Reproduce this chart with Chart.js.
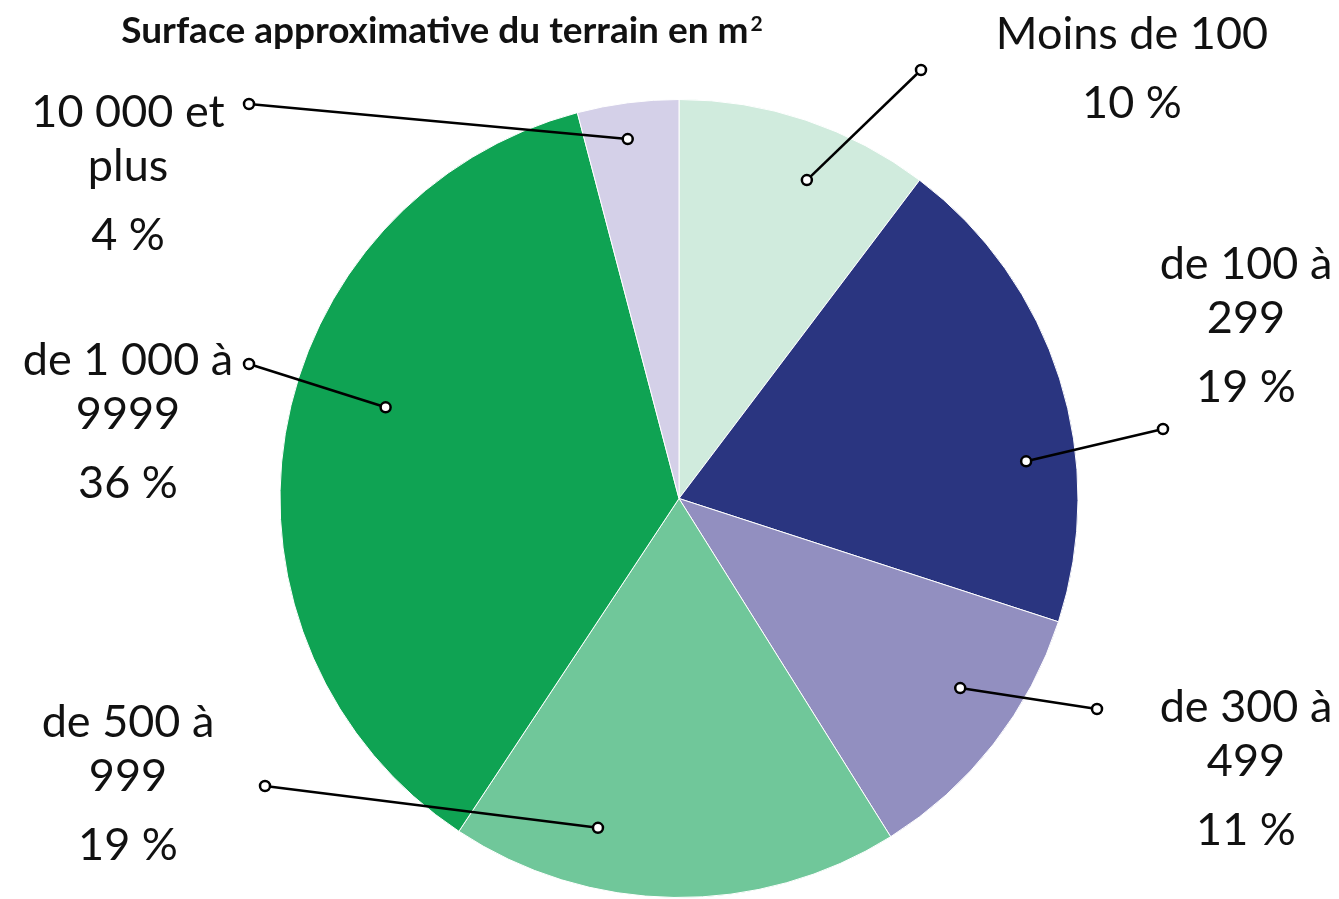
<!DOCTYPE html>
<html>
<head>
<meta charset="utf-8">
<script src="https://cdn.jsdelivr.net/npm/chart.js@4/dist/chart.umd.min.js"></script>
<style>
  html, body { margin: 0; padding: 0; background: #fff; }
  #wrap { width: 1339px; height: 899px; position: relative; }
</style>
</head>
<body>
<div id="wrap"><canvas id="chart"></canvas></div>
<script>
const chartTitle = "Surface approximative du terrain en m";
const titleSup = "2";
const categories = [
    ["Moins de 100"],
    ["de 100 à", "299"],
    ["de 300 à", "499"],
    ["de 500 à", "999"],
    ["de 1 000 à", "9999"],
    ["10 000 et", "plus"]
];
const values = [10.3, 19.7, 11.1, 18.2, 36.6, 4.1];
const percentLabels = ["10 %", "19 %", "11 %", "19 %", "36 %", "4 %"];
const colors = ["#d0ebdd", "#2a3580", "#928fc0", "#70c79a", "#0fa353", "#d4d0e8"];

// label placement: text centre x, first baseline y, outer dot, inner dot (fraction of slice angle, fraction of radius)
const labelPos = [
    { x: 1132, y: 49,  dot: [921, 70],  f: 0.59, r: 0.86 },
    { x: 1246, y: 279, dot: [1163, 429], f: 0.66, r: 0.875 },
    { x: 1246, y: 722, dot: [1097, 709], f: 0.40, r: 0.85 },
    { x: 128,  y: 737, dot: [265, 786], f: 0.70, r: 0.85 },
    { x: 128,  y: 375, dot: [249, 364], f: 0.56, r: 0.77 },
    { x: 128,  y: 127, dot: [249, 104], f: 0.45, r: 0.91 }
];

const labelPlugin = {
    id: 'leaderLabels',
    afterDraw(chart) {
        const ctx = chart.ctx;
        ctx.save();
        ctx.fillStyle = '#111';
        ctx.textBaseline = 'alphabetic';

        // title with superscript
        ctx.font = 'bold 37px Lato';
        const w1 = ctx.measureText(chartTitle).width;
        ctx.font = 'bold 21px Lato';
        const w2 = ctx.measureText(titleSup).width;
        const tx = 442 - (w1 + w2 + 2) / 2;
        ctx.textAlign = 'left';
        ctx.font = 'bold 37px Lato';
        ctx.fillText(chartTitle, tx, 43);
        ctx.font = 'bold 21px Lato';
        ctx.fillText(titleSup, tx + w1 + 2, 31);

        ctx.textAlign = 'center';
        const arcs = chart.getDatasetMeta(0).data;
        arcs.forEach((arc, i) => {
            const p = labelPos[i];
            const a = arc.startAngle + p.f * (arc.endAngle - arc.startAngle);
            const ix = arc.x + Math.cos(a) * arc.outerRadius * p.r;
            const iy = arc.y + Math.sin(a) * arc.outerRadius * p.r;

            ctx.strokeStyle = '#000';
            ctx.lineWidth = 2.5;
            ctx.beginPath();
            ctx.moveTo(ix, iy);
            ctx.lineTo(p.dot[0], p.dot[1]);
            ctx.stroke();

            [[ix, iy], p.dot].forEach(pt => {
                ctx.beginPath();
                ctx.arc(pt[0], pt[1], 5, 0, Math.PI * 2);
                ctx.fillStyle = '#fff';
                ctx.fill();
                ctx.stroke();
            });

            ctx.fillStyle = '#111';
            ctx.font = '45px Lato';
            const lines = categories[i];
            lines.forEach((t, k) => ctx.fillText(t, p.x, p.y + k * 54));
            ctx.fillText(percentLabels[i], p.x, p.y + (lines.length - 1) * 54 + 69);
        });
        ctx.restore();
    }
};

const ctx = document.getElementById('chart').getContext('2d');
new Chart(ctx, {
    type: 'pie',
    data: {
        labels: categories.map(c => c.join(' ')),
        datasets: [{
            data: values,
            backgroundColor: colors,
            borderColor: '#ffffff',
            borderWidth: 1
        }]
    },
    options: {
        responsive: true,
        maintainAspectRatio: false,
        animation: false,
        layout: { padding: { top: 99, bottom: 1, left: 279, right: 260 } },
        plugins: {
            legend: { display: false },
            tooltip: { enabled: false },
            title: { display: false }
        }
    },
    plugins: [labelPlugin]
});
</script>
</body>
</html>
